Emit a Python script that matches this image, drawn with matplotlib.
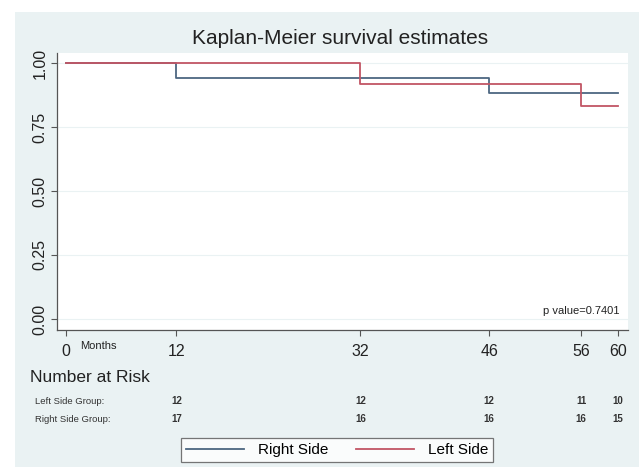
import matplotlib.pyplot as plt
from matplotlib.patches import Rectangle
from matplotlib.transforms import blended_transform_factory
from matplotlib.lines import Line2D

plt.rcParams['font.family'] = ['Liberation Sans', 'DejaVu Sans']

# survival steps (months, estimate)
right_t = [0, 12, 46, 60]
right_s = [1.0, 16 / 17, 15 / 17, 15 / 17]
left_t = [0, 32, 56, 60]
left_s = [1.0, 11 / 12, 10 / 12, 10 / 12]

xticks = [0, 12, 32, 46, 56, 60]
yticks = [0.0, 0.25, 0.5, 0.75, 1.0]

risk_times = [12, 32, 46, 56, 60]
risk_left = [12, 12, 12, 11, 10]
risk_right = [17, 16, 16, 16, 15]

blue = '#4d6781'
red = '#c25565'
bg = '#eaf2f3'

W, H = 639, 467
fig = plt.figure(figsize=(W / 100, H / 100), dpi=100)
fig.patch.set_facecolor('white')
fig.add_artist(Rectangle((15 / W, 0), 1 - 15 / W, 1 - 12 / H,
                         transform=fig.transFigure, facecolor=bg,
                         edgecolor='none', zorder=-5))

ax = fig.add_axes([57 / W, 1 - 330 / H, (628 - 57) / W, (330 - 53) / H])
ax.set_facecolor('white')
ax.step(right_t, right_s, where='post', color=blue, lw=1.3, label='Right Side')
ax.step(left_t, left_s, where='post', color=red, lw=1.3, label='Left Side')

ax.set_xlim(-0.98, 61.1)
ax.set_ylim(-0.043, 1.039)
ax.set_xticks(xticks)
ax.set_xticklabels([str(t) for t in xticks], fontsize=11.5, color='#222222')
ax.set_yticks(yticks)
ax.set_yticklabels(['%.2f' % v for v in yticks], fontsize=11.5, rotation=90,
                   va='center', color='#222222')
ax.tick_params(length=4, width=0.8, color='#555555', pad=3)
ax.tick_params(axis='x', pad=6)
for s in ['top', 'right']:
    ax.spines[s].set_visible(False)
for s in ['left', 'bottom']:
    ax.spines[s].set_color('#555555')
    ax.spines[s].set_linewidth(0.9)
ax.yaxis.grid(True, color=bg, lw=0.8)
ax.set_axisbelow(True)

ax.text(0.985, 0.07, 'p value=0.7401', transform=ax.transAxes,
        ha='right', va='center', fontsize=8, color='#222222')

fig.suptitle('Kaplan-Meier survival estimates', x=340 / W, y=1 - 38 / H,
             va='center', fontsize=15, color='#222222')

tr = blended_transform_factory(ax.transData, fig.transFigure)
ax.text(1.5, 1 - 346 / H, 'Months', transform=tr, fontsize=8,
        ha='left', va='center', color='#222222', clip_on=False)
fig.text(30 / W, 1 - 377 / H, 'Number at Risk', fontsize=12.5,
         ha='left', va='center', color='#222222')
fig.text(35 / W, 1 - 401 / H, 'Left Side Group:', fontsize=6.8,
         ha='left', va='center', color='#333333')
fig.text(35 / W, 1 - 419 / H, 'Right Side Group:', fontsize=6.8,
         ha='left', va='center', color='#333333')
for t, nl, nr in zip(risk_times, risk_left, risk_right):
    ax.text(t, 1 - 401 / H, str(nl), transform=tr, fontsize=7, ha='center',
            va='center', color='#333333', fontweight='bold', clip_on=False)
    ax.text(t, 1 - 419 / H, str(nr), transform=tr, fontsize=7, ha='center',
            va='center', color='#333333', fontweight='bold', clip_on=False)

handles = [Line2D([], [], color=blue, lw=1.3), Line2D([], [], color=red, lw=1.3)]
leg = fig.legend(handles, ['Right Side', 'Left Side'], ncol=2,
                 loc='center', bbox_to_anchor=(337 / W, 1 - 450 / H),
                 fontsize=11, frameon=True, fancybox=False, handlelength=3.8,
                 columnspacing=1.8, borderpad=0.35, handletextpad=0.9)
leg.get_frame().set_edgecolor('#555555')
leg.get_frame().set_linewidth(0.9)
leg.get_frame().set_facecolor('white')

fig.savefig('out.png', dpi=100, facecolor=fig.get_facecolor())
